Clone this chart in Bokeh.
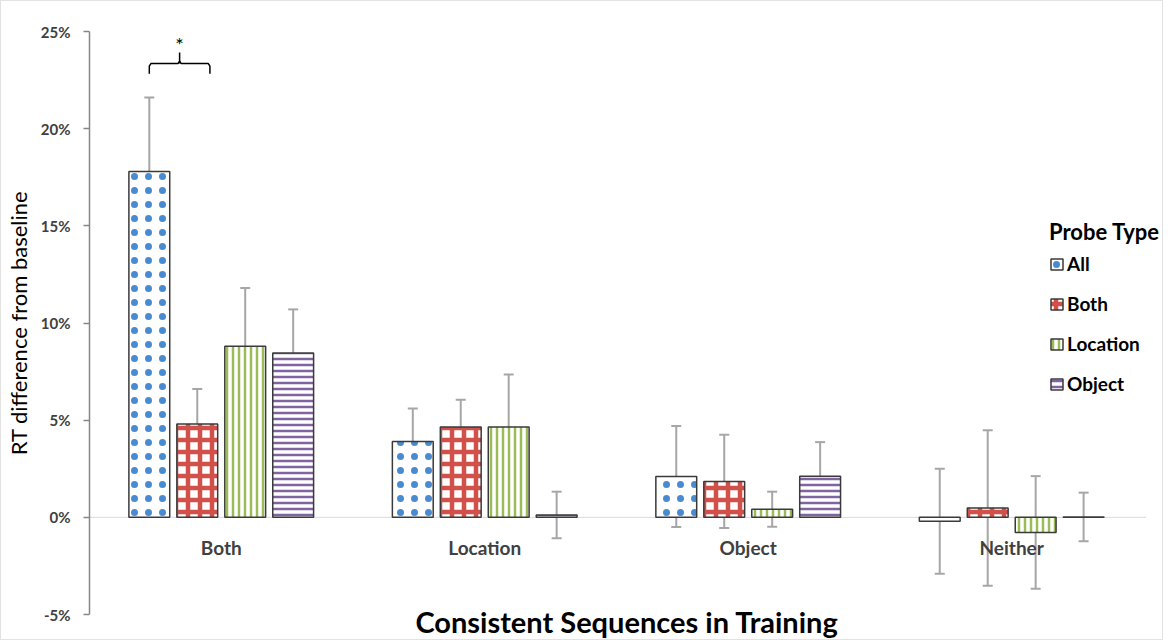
from bokeh.plotting import figure
from bokeh.models import (ColumnDataSource, Range1d, NumeralTickFormatter, FixedTicker,
                          Whisker, TeeHead, Legend, LegendItem)
from bokeh.core.properties import value
from bokeh.embed import file_html
from bokeh.resources import INLINE

# ---------------- data ----------------
groups = ["Both", "Location", "Object", "Neither"]
probe_types = ["All", "Both", "Location", "Object"]

all_mean = [17.8, 3.9, 2.1, -0.2]
all_err = [3.8, 1.7, 2.6, 2.7]
both_mean = [4.8, 4.65, 1.85, 0.48]
both_err = [1.8, 1.4, 2.4, 4.0]
loc_mean = [8.8, 4.65, 0.42, -0.78]
loc_err = [3.0, 2.7, 0.9, 2.9]
obj_mean = [8.45, 0.12, 2.12, 0.02]
obj_err = [2.25, 1.2, 1.75, 1.25]

y_ticks = [-0.05, 0.0, 0.05, 0.10, 0.15, 0.20, 0.25]

means = [all_mean, both_mean, loc_mean, obj_mean]
errs = [all_err, both_err, loc_err, obj_err]

# ---------------- style ----------------
FONT = "Lato"
colors = ["#4a8bd0", "#d2504a", "#9bbb59", "#8064a2"]
bar_step = 0.182
bar_w = 0.155

hatches = [
    dict(hatch_pattern="dot", hatch_scale=14, hatch_weight=1),
    dict(hatch_pattern="cross", hatch_scale=12, hatch_weight=4.5),
    dict(hatch_pattern="vertical_line", hatch_scale=6, hatch_weight=2.5),
    dict(hatch_pattern="horizontal_line", hatch_scale=6, hatch_weight=2.5),
]

x_end = 4.08
p = figure(width=1163, height=640, x_range=Range1d(0, x_end), y_range=Range1d(-0.05, 0.25),
           x_axis_location="below", output_backend="svg", toolbar_location=None,
           min_border_left=86, min_border_right=0, min_border_top=30, min_border_bottom=24)
p.outline_line_color = None
p.grid.grid_line_color = None
p.background_fill_color = "white"
p.border_fill_color = "white"
p.styles = {"border": "1px solid #e2e2e2"}

# y axis
yax = p.yaxis[0]
yax.ticker = FixedTicker(ticks=y_ticks)
yax.formatter = NumeralTickFormatter(format="0%")
yax.minor_tick_line_color = None
yax.major_tick_in = 0
yax.major_tick_out = 6
yax.axis_line_color = "#868686"
yax.axis_line_width = 1.5
yax.major_tick_line_color = "#868686"
yax.major_tick_line_width = 1.5
yax.major_label_text_font = FONT
yax.major_label_text_font_size = "15px"
yax.major_label_text_font_style = "bold"
yax.major_label_text_color = "#404040"
yax.major_label_standoff = 13
yax.axis_label = "RT difference from baseline"
yax.axis_label_text_font = FONT
yax.axis_label_text_font_size = "22px"
yax.axis_label_text_font_style = "normal"
yax.axis_label_text_color = "#000000"
yax.axis_label_standoff = 6

# x axis: only its title is shown (category names sit at the zero line)
xax = p.xaxis[0]
xax.ticker = FixedTicker(ticks=[])
xax.axis_line_color = None
xax.major_tick_line_color = None
xax.minor_tick_line_color = None
xax.major_tick_in = 0
xax.major_tick_out = 0
xax.minor_tick_out = 0
xax.major_label_standoff = 0
xax.axis_label = "Consistent Sequences in Training"
xax.axis_label_text_font = FONT
xax.axis_label_text_font_size = "29px"
xax.axis_label_text_font_style = "bold"
xax.axis_label_text_color = "#000000"
xax.axis_label_standoff = -11

# zero line
p.line(x=[0, len(groups) + 0.01], y=[0, 0], line_color="#d9d9d9", line_width=1, level="underlay")

group_centers = [i + 0.5 for i in range(len(groups))]
renderers = []
whisk_sources = []
for k, pt in enumerate(probe_types):
    off = (k - 1.5) * bar_step
    xs = [c + off for c in group_centers]
    tops = [m / 100 for m in means[k]]
    ups = [(m + e) / 100 for m, e in zip(means[k], errs[k])]
    los = [(m - e) / 100 for m, e in zip(means[k], errs[k])]
    src = ColumnDataSource(dict(x=xs, top=tops, upper=ups, lower=los))
    r = p.vbar(x="x", top="top", width=bar_w, source=src, fill_color="white",
               line_color="#3a3a3a", line_width=1.5, hatch_color=colors[k], **hatches[k])
    renderers.append(r)
    whisk_sources.append(src)

for src in whisk_sources:
    w = Whisker(base="x", upper="upper", lower="lower", source=src,
                line_color="#a6a6a6", line_width=2,
                upper_head=TeeHead(size=10, line_color="#a6a6a6", line_width=2),
                lower_head=TeeHead(size=10, line_color="#a6a6a6", line_width=2))
    p.add_layout(w)

# category labels at zero line
p.text(x=group_centers, y=[-0.0155] * len(groups), text=groups, text_align="center",
       text_baseline="middle", text_font=value(FONT), text_font_size="19px",
       text_font_style="bold", text_color="#404040")

# significance bracket between All and Both in first group
bx0 = group_centers[0] - 1.5 * bar_step
bx1 = bx0 + 0.23
bm = (bx0 + bx1) / 2
p.multi_line(xs=[[bx0, bx0, bx0 + 0.006, bm - 0.006, bm],
                 [bx1, bx1, bx1 - 0.006, bm + 0.006, bm],
                 [bm, bm]],
             ys=[[0.2282, 0.2322, 0.2335, 0.2335, 0.2348],
                 [0.2282, 0.2322, 0.2335, 0.2335, 0.2348],
                 [0.2335, 0.2392]],
             line_color="black", line_width=1.5)
p.text(x=[bm], y=[0.2435], text=["*"], text_align="center", text_baseline="middle",
       text_font=value(FONT), text_font_size="20px", text_color="#000000")

legend = Legend(items=[LegendItem(label=pt, renderers=[r]) for pt, r in zip(probe_types, renderers)],
                title="Probe Type", location=(960, 219))
legend.title_text_font = FONT
legend.title_text_font_size = "22px"
legend.title_text_font_style = "bold"
legend.title_text_color = "#000000"
legend.title_standoff = 7
legend.label_text_font = FONT
legend.label_text_font_size = "19px"
legend.label_text_font_style = "bold"
legend.label_text_color = "#000000"
legend.glyph_width = 15
legend.glyph_height = 14
legend.label_height = 20
legend.label_standoff = 3
legend.spacing = 17
legend.padding = 0
legend.margin = 0
legend.border_line_color = None
legend.background_fill_alpha = 0
p.add_layout(legend)

open("out.html", "w").write(file_html(p, INLINE))
